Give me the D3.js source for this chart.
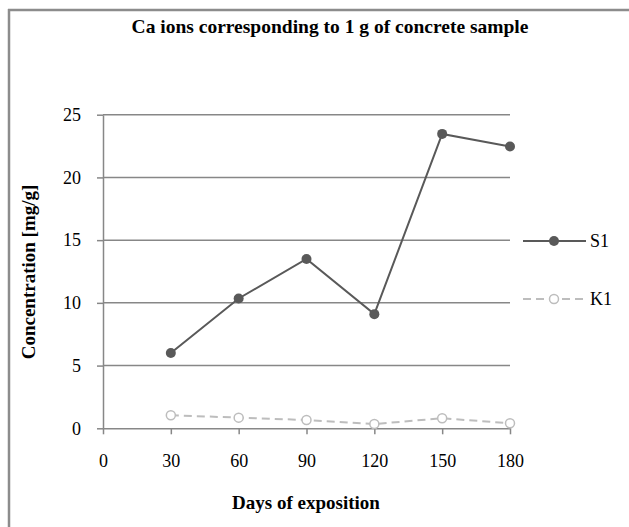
<!DOCTYPE html>
<html>
<head>
<meta charset="utf-8">
<script src="https://cdn.jsdelivr.net/npm/d3@7"></script>
<style>
  html, body { margin: 0; padding: 0; background: #fff; }
  svg { display: block; }
  text { font-family: "Liberation Serif", "Times New Roman", serif; fill: #000; }
</style>
</head>
<body>
<svg id="chart" width="629" height="527"></svg>
<script>
const days = [30, 60, 90, 120, 150, 180];
const s1 = [6.0, 10.35, 13.5, 9.1, 23.47, 22.47];
const k1 = [1.04, 0.85, 0.66, 0.34, 0.8, 0.4];
const xTicks = [0, 30, 60, 90, 120, 150, 180];
const yTicks = [0, 5, 10, 15, 20, 25];
const seriesNames = ["S1", "K1"];
const title = "Ca ions corresponding to 1 g of concrete sample";
const xTitle = "Days of exposition";
const yTitle = "Concentration [mg/g]";

const svg = d3.select("#chart");
const gridColor = "#878787";
const s1Color = "#595959";
const k1Color = "#bdbdbd";

// outer frame (left and top visible)
svg.append("line").attr("x1", 9).attr("x2", 9).attr("y1", 9).attr("y2", 527)
  .attr("stroke", "#8c8c8c").attr("stroke-width", 2.5);
svg.append("line").attr("x1", 8).attr("x2", 629).attr("y1", 10).attr("y2", 10)
  .attr("stroke", "#8c8c8c").attr("stroke-width", 2.5);

const x = d3.scaleLinear().domain([0, 180]).range([103, 510]);
const y = d3.scaleLinear().domain([0, 25]).range([428.3, 114.7]);

// gridlines
svg.append("g").selectAll("line").data(yTicks.filter(d => d > 0)).join("line")
  .attr("x1", x(0)).attr("x2", x(180))
  .attr("y1", d => y(d)).attr("y2", d => y(d))
  .attr("stroke", gridColor).attr("stroke-width", 1.5);

// y axis
const yAxis = svg.append("g").attr("transform", `translate(${x(0)},0)`)
  .call(d3.axisLeft(y).tickValues(yTicks).tickSize(6).tickPadding(16).tickSizeOuter(0));
yAxis.select(".domain").attr("stroke", gridColor).attr("stroke-width", 1.5);
yAxis.selectAll(".tick line").attr("stroke", gridColor).attr("stroke-width", 1.5);
yAxis.selectAll(".tick text").attr("font-family", "Liberation Serif").attr("font-size", 18).attr("fill", "#000");

// x axis
const xAxis = svg.append("g").attr("transform", `translate(0,${y(0)})`)
  .call(d3.axisBottom(x).tickValues(xTicks).tickSize(6).tickPadding(20).tickSizeOuter(0));
xAxis.select(".domain").attr("stroke", gridColor).attr("stroke-width", 1.5);
xAxis.selectAll(".tick line").attr("stroke", gridColor).attr("stroke-width", 1.5);
xAxis.selectAll(".tick text").attr("font-family", "Liberation Serif").attr("font-size", 18).attr("fill", "#000");

const line = d3.line().x((d, i) => x(days[i])).y(d => y(d));

// K1
svg.append("path").datum(k1).attr("d", line).attr("fill", "none")
  .attr("stroke", k1Color).attr("stroke-width", 2).attr("stroke-dasharray", "8,5");
svg.append("g").selectAll("circle").data(k1).join("circle")
  .attr("cx", (d, i) => x(days[i])).attr("cy", d => y(d)).attr("r", 4.5)
  .attr("fill", "#fff").attr("stroke", k1Color).attr("stroke-width", 1.5);

// S1
svg.append("path").datum(s1).attr("d", line).attr("fill", "none")
  .attr("stroke", s1Color).attr("stroke-width", 2);
svg.append("g").selectAll("circle").data(s1).join("circle")
  .attr("cx", (d, i) => x(days[i])).attr("cy", d => y(d)).attr("r", 5)
  .attr("fill", s1Color);

// legend
const leg = svg.append("g");
const legY = [241, 299];
seriesNames.forEach((name, i) => {
  const g = leg.append("g").attr("transform", `translate(0,${legY[i]})`);
  const isS = i === 0;
  g.append("line").attr("x1", 523).attr("x2", 586).attr("y1", 0).attr("y2", 0)
    .attr("stroke", isS ? s1Color : k1Color).attr("stroke-width", 2)
    .attr("stroke-dasharray", isS ? null : "8,5");
  g.append("circle").attr("cx", 554).attr("cy", 0).attr("r", isS ? 5 : 4.5)
    .attr("fill", isS ? s1Color : "#fff")
    .attr("stroke", isS ? "none" : k1Color).attr("stroke-width", 1.5);
  g.append("text").attr("x", 590).attr("y", 6).attr("font-size", 18).text(name);
});

// titles
svg.append("text").attr("x", 330).attr("y", 33).attr("text-anchor", "middle")
  .attr("font-weight", "bold").attr("font-size", 19.5).text(title);
svg.append("text").attr("x", 306).attr("y", 509).attr("text-anchor", "middle")
  .attr("font-weight", "bold").attr("font-size", 19).text(xTitle);
svg.append("text").attr("transform", "translate(35,272) rotate(-90)").attr("text-anchor", "middle")
  .attr("font-weight", "bold").attr("font-size", 19).text(yTitle);
</script>
</body>
</html>
